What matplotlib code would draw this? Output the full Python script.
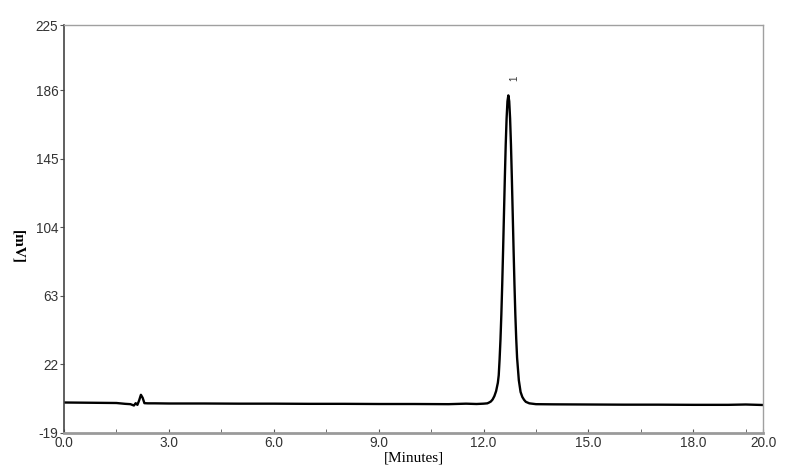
import matplotlib
matplotlib.use("Agg")
import matplotlib.pyplot as plt
from matplotlib.ticker import MultipleLocator

# Data
time_min = [0.0, 0.5, 1.0, 1.5, 1.75, 1.9, 2.0, 2.05, 2.1, 2.15, 2.2, 2.25, 2.3, 2.4, 2.6,
            3.0, 4.0, 5.0, 6.0, 7.0, 8.0, 9.0, 10.0, 11.0, 11.5, 11.8, 12.0, 12.11, 12.16,
            12.21, 12.26, 12.31, 12.36, 12.41, 12.435, 12.46, 12.485, 12.51, 12.535, 12.56,
            12.585, 12.61, 12.635, 12.66, 12.685, 12.71, 12.735, 12.76, 12.785, 12.81,
            12.835, 12.86, 12.885, 12.91, 12.935, 12.96, 13.01, 13.06, 13.11, 13.16, 13.21,
            13.31, 13.5, 14.0, 15.0, 16.0, 17.0, 18.0, 19.0, 19.5, 20.0]
signal_mv = [-0.8, -0.9, -1.0, -1.1, -1.6, -1.8, -2.6, -1.2, -2.2, 0.5, 3.8, 2.0, -1.2, -1.3, -1.3,
             -1.4, -1.4, -1.5, -1.5, -1.6, -1.6, -1.7, -1.7, -1.8, -1.5, -1.7, -1.5, -1.3, -0.8,
             -0.2, 1.0, 3.0, 6.0, 11.0, 15.5, 25.1, 36.9, 51.9, 69.9, 90.4,
             112.2, 133.8, 153.5, 169.2, 179.5, 183.0, 179.5, 169.2, 153.5, 133.8,
             112.2, 90.4, 69.9, 51.9, 37.5, 26.0, 12.5, 5.5, 2.5, 0.8, -0.4,
             -1.3, -1.8, -1.9, -2.0, -2.1, -2.1, -2.2, -2.2, -2.0, -2.3]

x_ticks = [0.0, 3.0, 6.0, 9.0, 12.0, 15.0, 18.0, 20.0]
y_ticks = [-19, 22, 63, 104, 145, 186, 225]
peak_label = "1"
peak_time = 12.71

fig = plt.figure(figsize=(8, 4.67), dpi=100)
ax = fig.add_axes([0.08, 0.073, 0.874, 0.873])

ax.plot(time_min, signal_mv, color="black", linewidth=1.7)

ax.set_xlim(0, 20)
ax.set_ylim(-19, 225)
ax.set_xticks(x_ticks)
ax.set_xticklabels([f"{v:.1f}" for v in x_ticks])
ax.xaxis.set_minor_locator(MultipleLocator(1.5))
ax.set_yticks(y_ticks)
ax.set_yticklabels([str(v) for v in y_ticks])

for lbl in ax.get_xticklabels() + ax.get_yticklabels():
    lbl.set_fontfamily(["Liberation Sans", "DejaVu Sans"])
    lbl.set_fontsize(9.8)
    lbl.set_color("#333333")

ax.tick_params(axis="x", which="both", direction="in", length=3, color="#555555", pad=2)
ax.tick_params(axis="y", direction="out", length=3, color="#555555", pad=1)

for side in ["top", "right"]:
    ax.spines[side].set_color("#a0a0a0")
    ax.spines[side].set_linewidth(1.0)
ax.spines["left"].set_color("#444444")
ax.spines["left"].set_linewidth(1.2)
ax.spines["bottom"].set_color("#9a9a9a")
ax.spines["bottom"].set_linewidth(2.0)

ax.set_xlabel("[Minutes]", family=["Liberation Serif", "DejaVu Serif"], fontsize=11, labelpad=1)
ax.set_ylabel("[mV]", family=["Liberation Serif", "DejaVu Serif"], fontsize=11,
              fontweight="bold", rotation=270, va="bottom")
ax.yaxis.set_label_coords(-0.075, 0.455)

ax.text(peak_time + 0.17, 193, peak_label, rotation=90, fontsize=7,
        family=["Liberation Sans", "DejaVu Sans"], ha="center", va="center", color="#333333")

fig.savefig("out.png", dpi=100)
